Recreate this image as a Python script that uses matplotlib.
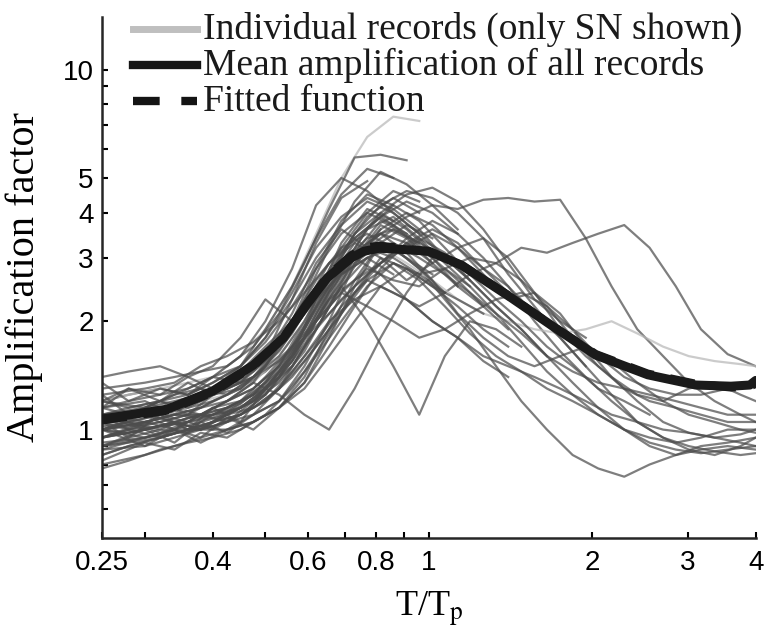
import numpy as np
import matplotlib.pyplot as plt
from matplotlib.lines import Line2D

plt.rcParams['mathtext.fontset'] = 'stix'

# period grids (T/Tp) on which the spectral ordinates were read
grid_a = [0.25, 0.28, 0.32, 0.36, 0.40, 0.45, 0.50, 0.56, 0.62, 0.69, 0.77, 0.86, 0.96,
          1.07, 1.19, 1.33, 1.48, 1.65, 1.84, 2.05, 2.29, 2.55, 2.85, 3.17, 3.55, 4.0]
grid_b = [0.25, 0.30, 0.34, 0.38, 0.425, 0.475, 0.53, 0.59, 0.655, 0.73, 0.815, 0.91, 1.015,
          1.13, 1.26, 1.40, 1.565, 1.745, 1.945, 2.17, 2.42, 2.70, 3.01, 3.36, 3.75, 4.0]

# records that cover the whole range
records_long = [
    [1.02, 1.05, 1.0, 1.08, 1.1, 1.18, 1.35, 1.7, 2.2, 2.9, 3.4, 3.6, 3.3, 3.0, 2.6, 2.2, 1.9, 1.6, 1.35, 1.15, 1.0, 0.92, 0.88, 0.86, 0.88, 0.9],
    [0.95, 1.0, 1.05, 1.0, 1.12, 1.25, 1.5, 2.0, 2.7, 3.5, 4.2, 4.6, 4.4, 4.0, 3.4, 2.7, 2.2, 1.8, 1.5, 1.25, 1.05, 0.95, 0.9, 0.87, 0.85, 0.86],
    [1.1, 1.05, 1.1, 1.15, 1.2, 1.3, 1.45, 1.7, 2.0, 2.4, 2.8, 2.6, 2.5, 2.8, 3.0, 2.9, 3.2, 3.1, 3.3, 3.5, 3.7, 3.2, 2.5, 1.9, 1.62, 1.5],
    [1.15, 1.2, 1.1, 1.25, 1.3, 1.45, 1.7, 2.1, 2.6, 3.1, 3.5, 3.9, 4.2, 4.1, 4.35, 4.4, 4.3, 4.35, 3.4, 2.5, 1.9, 1.6, 1.35, 1.2, 1.1, 1.05],
    [0.9, 0.95, 1.0, 0.98, 1.05, 1.1, 1.25, 1.55, 2.1, 2.8, 3.2, 3.0, 2.7, 2.8, 2.5, 2.1, 1.75, 1.45, 1.25, 1.1, 1.0, 0.95, 0.92, 0.95, 1.0, 1.0],
    [1.2, 1.15, 1.25, 1.3, 1.25, 1.4, 1.7, 2.2, 2.9, 3.3, 3.0, 2.6, 2.9, 3.2, 2.7, 2.3, 2.4, 2.1, 1.7, 1.4, 1.2, 1.05, 0.98, 0.95, 0.97, 1.0],
    [1.0, 0.98, 1.02, 1.05, 1.1, 1.2, 1.3, 1.55, 1.9, 2.5, 3.0, 3.2, 2.8, 2.3, 1.9, 1.5, 1.2, 1.0, 0.85, 0.78, 0.74, 0.8, 0.85, 0.9, 0.92, 0.95],
    [1.05, 1.1, 1.15, 1.1, 1.2, 1.3, 1.5, 1.8, 2.3, 2.6, 2.9, 3.4, 3.8, 3.5, 3.0, 2.5, 2.0, 1.65, 1.4, 1.2, 1.05, 0.95, 0.88, 0.85, 0.9, 0.95],
    [0.95, 1.0, 1.02, 1.05, 1.0, 1.1, 1.2, 1.45, 1.75, 2.2, 2.6, 2.4, 2.2, 2.4, 2.7, 2.9, 2.6, 2.2, 1.9, 1.6, 1.4, 1.3, 1.25, 1.25, 1.3, 1.35],
    [1.1, 1.15, 1.1, 1.2, 1.25, 1.35, 1.6, 2.0, 2.5, 3.0, 3.2, 2.9, 2.6, 2.3, 2.1, 2.0, 1.9, 1.85, 1.9, 2.0, 1.85, 1.7, 1.6, 1.55, 1.52, 1.5],
    [1.0, 1.05, 0.98, 1.05, 1.08, 1.15, 1.3, 1.6, 2.0, 2.4, 2.2, 2.0, 1.8, 1.9, 2.1, 2.3, 2.4, 2.2, 1.8, 1.5, 1.3, 1.2, 1.15, 1.1, 1.05, 1.05],
    [1.1, 1.0, 1.05, 1.1, 1.15, 1.25, 1.4, 1.8, 2.4, 3.0, 3.6, 4.0, 3.7, 3.2, 3.4, 3.0, 2.4, 1.9, 1.6, 1.4, 1.25, 1.2, 1.3, 1.35, 1.25, 1.2],
    [0.85, 0.9, 0.95, 1.0, 1.05, 1.1, 1.2, 1.4, 1.7, 2.1, 2.6, 2.9, 2.6, 2.2, 1.85, 1.6, 1.45, 1.3, 1.2, 1.1, 1.0, 0.9, 0.85, 0.88, 0.9, 0.88],
    [1.0, 1.05, 1.1, 1.08, 1.12, 1.2, 1.45, 1.9, 2.5, 3.1, 3.5, 3.1, 2.6, 2.1, 1.8, 1.6, 1.5, 1.6, 1.7, 1.55, 1.35, 1.2, 1.1, 1.05, 1.0, 0.98],
    [1.15, 1.1, 1.2, 1.15, 1.25, 1.35, 1.55, 1.9, 2.3, 2.7, 3.0, 3.3, 3.0, 2.7, 2.4, 2.1, 1.85, 1.6, 1.45, 1.35, 1.3, 1.25, 1.2, 1.15, 1.1, 1.1],
    [0.92, 0.95, 1.0, 1.05, 1.1, 1.15, 1.3, 1.6, 2.0, 2.3, 2.5, 2.3, 2.0, 1.8, 1.6, 1.5, 1.4, 1.3, 1.2, 1.1, 1.05, 1.0, 0.98, 0.95, 0.92, 0.9],
]

# records that stop between T/Tp = 1.5 and 2.5
records_mid = [
    [1.0, 1.05, 1.1, 1.05, 1.15, 1.2, 1.35, 1.6, 2.0, 2.5, 2.0, 1.5, 1.1, 1.6, 2.0, 1.9, 1.7],
    [1.1, 1.15, 1.2, 1.25, 1.3, 1.4, 1.6, 2.0, 2.6, 3.3, 4.0, 4.5, 4.7, 4.3, 3.6, 2.9, 2.3, 2.0, 1.8],
    [0.95, 1.0, 1.05, 1.1, 1.1, 1.2, 1.4, 1.7, 2.2, 2.8, 3.6, 4.2, 3.8, 3.2, 2.7, 2.3, 2.0, 1.7, 1.5, 1.3, 1.2, 1.1],
    [1.05, 1.1, 1.0, 1.1, 1.2, 1.3, 1.5, 1.9, 2.5, 3.0, 2.7, 2.3, 2.0, 1.8, 1.55, 1.4],
    [1.2, 1.25, 1.3, 1.25, 1.35, 1.5, 1.8, 2.3, 3.0, 3.7, 4.3, 4.0, 3.5, 3.0, 2.6, 2.2, 1.9, 1.6],
    [0.9, 0.95, 1.0, 1.0, 1.05, 1.15, 1.3, 1.55, 1.9, 2.4, 2.9, 3.3, 3.6, 3.3, 2.8, 2.5, 2.1, 1.8, 1.5],
]

# records that stop around the predominant period
records_short = [
    [1.2, 1.25, 1.3, 1.35, 1.4, 1.6, 1.9, 2.5, 3.5, 5.0, 6.5, 7.4, 7.2],
    [1.3, 1.35, 1.4, 1.45, 1.5, 1.7, 2.1, 2.9, 4.1, 5.7, 5.8, 5.6],
    [1.1, 1.15, 1.2, 1.3, 1.4, 1.6, 2.0, 2.8, 4.2, 5.0, 4.6, 4.0, 3.5],
    [1.0, 1.05, 1.1, 1.15, 1.2, 1.35, 1.7, 2.3, 3.2, 4.3, 5.2, 4.8, 4.2, 3.6],
    [0.85, 0.9, 0.95, 1.0, 1.05, 1.15, 1.3, 1.6, 2.1, 2.8, 3.6, 3.9, 3.4, 2.9, 2.5],
    [1.0, 1.05, 1.1, 1.1, 1.2, 1.35, 1.25, 1.1, 1.0, 1.3, 1.8, 2.4, 3.0],
    [1.15, 1.2, 1.25, 1.3, 1.4, 1.5, 1.8, 2.4, 3.2, 3.9, 4.4, 4.1, 3.6, 3.0],
    [0.95, 1.0, 1.05, 1.0, 1.1, 1.2, 1.4, 1.8, 2.3, 2.9, 3.3, 3.0, 2.7],
    [1.05, 1.0, 0.95, 1.0, 1.05, 1.15, 1.3, 1.5, 1.9, 2.3, 2.7, 3.1, 3.4, 3.1, 2.6],
    [0.8, 0.85, 0.9, 0.95, 1.0, 1.05, 1.15, 1.35, 1.7, 2.2, 2.8, 3.3, 3.0, 2.5],
    [1.4, 1.45, 1.5, 1.4, 1.5, 1.8, 2.3, 2.0, 2.4, 3.2, 4.0, 4.6, 4.3],
    [1.25, 1.3, 1.35, 1.5, 1.6, 1.75, 2.0, 2.4, 2.9, 3.4, 3.9, 4.3, 4.0, 3.5],
    [0.9, 0.92, 0.95, 1.0, 1.02, 1.1, 1.25, 1.5, 1.9, 2.5, 3.2, 3.6, 3.3],
    [1.1, 1.05, 1.1, 1.15, 1.25, 1.4, 1.65, 2.1, 2.7, 3.4, 3.9, 3.5, 3.0, 2.6, 2.2],
    [0.78, 0.82, 0.88, 0.92, 0.95, 1.0, 1.1, 1.3, 1.6, 2.0, 2.5, 2.9, 2.7, 2.4],
    [1.0, 0.95, 0.98, 1.0, 1.05, 1.1, 1.2, 1.45, 1.85, 2.4, 3.0, 2.8, 2.5, 2.3, 2.1],
    [1.2, 1.15, 1.2, 1.25, 1.35, 1.5, 1.75, 2.2, 2.8, 3.5, 4.0, 3.7, 3.2],
    [0.95, 1.0, 1.05, 1.1, 1.15, 1.25, 1.45, 1.8, 2.3, 3.0, 3.7, 3.4, 2.9, 2.5, 2.2, 1.9],
    [1.05, 1.1, 1.15, 1.2, 1.3, 1.45, 1.7, 2.0, 2.6, 3.2, 3.5, 3.2, 2.8, 2.4],
    [0.88, 0.9, 0.95, 1.0, 1.0, 1.05, 1.15, 1.3, 1.6, 2.0, 2.5, 2.8, 2.5, 2.2, 1.9, 1.7],
    [1.0, 1.02, 1.05, 1.1, 1.2, 1.3, 1.5, 1.85, 2.4, 3.1, 3.9, 4.4, 4.0],
    [1.1, 1.12, 1.15, 1.2, 1.3, 1.4, 1.55, 1.8, 2.1, 2.5, 2.9, 3.2, 3.5, 3.2, 2.8, 2.4],
    [1.05, 0.95, 1.1, 1.0, 1.15, 1.05, 1.3, 1.6, 2.3, 3.3, 4.1, 3.8],
    [0.9, 1.0, 0.92, 1.05, 0.98, 1.1, 1.2, 1.5, 2.0, 2.9, 3.6],
    [1.25, 1.1, 1.2, 1.1, 1.25, 1.3, 1.5, 2.0, 2.8, 3.8, 4.5, 4.2],
    [0.82, 0.92, 0.88, 0.98, 0.95, 1.05, 1.15, 1.4, 1.9, 2.6, 3.3, 3.1],
    [1.15, 1.3, 1.2, 1.35, 1.25, 1.45, 1.6, 2.1, 2.9, 3.6, 3.2],
    [1.0, 0.9, 1.0, 0.95, 1.08, 1.0, 1.15, 1.35, 1.8, 2.5, 3.3, 3.7, 3.4],
    [1.35, 1.2, 1.3, 1.25, 1.4, 1.35, 1.6, 2.3, 3.3, 4.4, 4.9],
    [0.95, 1.05, 1.0, 1.1, 1.05, 1.2, 1.4, 1.9, 2.6, 3.5, 4.0, 3.6, 3.1],
    [1.1, 1.0, 1.08, 1.0, 1.1, 1.15, 1.25, 1.55, 2.0, 2.7, 3.0, 2.7],
    [0.88, 0.95, 1.0, 0.92, 1.0, 1.1, 1.3, 1.7, 2.4, 3.1, 3.8, 3.5],
    [1.2, 1.3, 1.25, 1.4, 1.3, 1.5, 1.9, 2.5, 3.4, 4.5, 5.3, 5.0],
    [1.0, 1.1, 1.05, 1.0, 1.1, 1.2, 1.35, 1.65, 2.2, 3.0, 3.5, 3.3, 2.9],
]

# mean of all records and fitted function
mean_x = [0.25, 0.33, 0.40, 0.475, 0.54, 0.595, 0.65, 0.72, 0.76, 0.81, 0.88, 1.0, 1.15,
          1.42, 1.68, 2.03, 2.53, 3.1, 3.6, 3.9, 4.0]
mean_y = [1.07, 1.14, 1.28, 1.51, 1.8, 2.22, 2.64, 3.0, 3.13, 3.19, 3.17, 3.13, 2.86,
          2.32, 1.95, 1.61, 1.42, 1.33, 1.32, 1.33, 1.37]
fit_y = [1.06, 1.13, 1.27, 1.50, 1.80, 2.22, 2.66, 3.05, 3.2, 3.24, 3.2, 3.12, 2.86,
         2.33, 1.95, 1.62, 1.43, 1.34, 1.31, 1.32, 1.34]

light = {9, 22}  # records drawn in a lighter grey

fig = plt.figure(figsize=(7.84, 6.41), dpi=100)
ax = fig.add_axes([0.130, 0.1607, 0.834, 0.8128])

all_records = records_long + records_mid + records_short
for i, rec in enumerate(all_records):
    xs = grid_a if i % 2 == 0 else grid_b
    col = '0.72' if i in light else '0.3'
    ax.plot(xs[:len(rec)], rec, color=col, lw=1.6, alpha=0.72, zorder=2)

ax.plot(mean_x, fit_y, color='0.1', lw=6, ls=(0, (3, 2)), zorder=3)
ax.plot(mean_x, mean_y, color='0.1', lw=6.5, solid_capstyle='round', zorder=4)

ax.set_xscale('log')
ax.set_yscale('log')
ax.set_xlim(0.25, 4)
ax.set_ylim(0.5, 14)

ax.set_xticks([0.25, 0.4, 0.6, 0.8, 1, 2, 3, 4])
ax.set_xticklabels(['0.25', '0.4', '0.6', '0.8', '1', '2', '3', '4'])
ax.set_xticks([0.3, 0.5, 0.7, 0.9], minor=True)
ax.set_xticklabels([], minor=True)
ax.set_yticks([1, 2, 3, 4, 5, 10])
ax.set_yticklabels(['1', '2', '3', '4', '5', '10'])
ax.set_yticks([0.6, 0.7, 0.8, 0.9, 6, 7, 8, 9], minor=True)
ax.set_yticklabels([], minor=True)

ax.tick_params(which='both', direction='in', length=4, width=1.5,
               labelsize=20, labelfontfamily='Liberation Sans')
ax.tick_params(axis='x', which='both', pad=9)
ax.tick_params(axis='y', which='both', pad=6)

for s in ['top', 'right']:
    ax.spines[s].set_visible(False)
for s in ['left', 'bottom']:
    ax.spines[s].set_linewidth(1.8)
    ax.spines[s].set_color('0.15')

ax.set_ylabel('Amplification factor', family='Liberation Serif', fontsize=29)
ax.yaxis.set_label_coords(-0.09, 0.5)
ax.set_xlabel(r'T/T$_\mathrm{p}$', family='Liberation Serif', fontsize=26)
ax.xaxis.set_label_coords(0.5, -0.1)

# legend drawn by hand
legend_rows = [0.976, 0.907, 0.838]
legend_labels = ['Individual records (only SN shown)', 'Mean amplification of all records', 'Fitted function']
ax.add_line(Line2D([0.047, 0.145], [legend_rows[0]] * 2, transform=ax.transAxes,
                   color='0.75', lw=5, clip_on=False))
ax.add_line(Line2D([0.047, 0.145], [legend_rows[1]] * 2, transform=ax.transAxes,
                   color='0.08', lw=6, clip_on=False))
ax.add_line(Line2D([0.047, 0.145], [legend_rows[2]] * 2, transform=ax.transAxes,
                   color='0.08', lw=6, ls=(0, (3.2, 2.6)), clip_on=False))
for yy, lab in zip(legend_rows, legend_labels):
    ax.text(0.155, yy, lab, transform=ax.transAxes, family='Liberation Serif',
            fontsize=27, va='center', ha='left', color='0.1')

fig.savefig('out.png', dpi=100)
